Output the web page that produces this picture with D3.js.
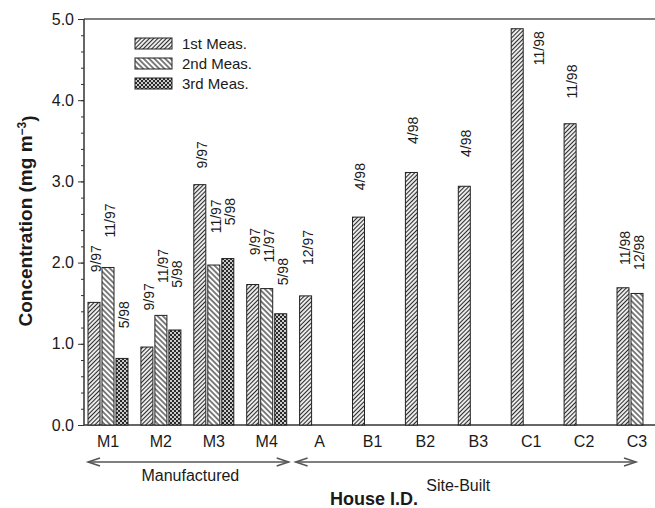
<!DOCTYPE html>
<head>
<meta charset="utf-8">
<script src="https://d3js.org/d3.v7.min.js"></script>
<style>
body {
	margin: 0;
	background: #fff;
}
svg text {
	font-family: "Liberation Sans", Arial, sans-serif;
	fill: #1a1a1a;
}
.y-axis path, .y-minor path {
	display: none;
}
.y-axis line, .y-minor line {
	stroke: #333;
}
.bar {
	stroke: #222;
	stroke-width: 1;
}
</style>
</head>
<body>
<svg id="chart" width="655" height="508"></svg>
<script>

// data
var houses = ["M1", "M2", "M3", "M4", "A", "B1", "B2", "B3", "C1", "C2", "C3"];
var meas1 = [1.51, 0.96, 2.96, 1.73, 1.59, 2.56, 3.11, 2.94, 4.88, 3.71, 1.69];
var meas2 = [1.94, 1.35, 1.97, 1.68, null, null, null, null, null, null, 1.62];
var meas3 = [0.82, 1.17, 2.05, 1.37, null, null, null, null, null, null, null];

// sampling dates written above the bars, and the level they start at
var date1 = ["9/97", "9/97", "9/97", "9/97", "12/97", "4/98", "4/98", "4/98", "11/98", "11/98", "11/98"];
var date2 = ["11/97", "11/97", "11/97", "11/97", null, null, null, null, null, null, "12/98"];
var date3 = ["5/98", "5/98", "5/98", "5/98", null, null, null, null, null, null, null];
var dateAt1 = [1.88, 1.41, 3.16, 2.09, 1.97, 2.89, 3.46, 3.30, 4.43, 4.02, 1.97];
var dateAt2 = [2.31, 1.75, 2.36, 2.00, null, null, null, null, null, null, 1.91];
var dateAt3 = [1.19, 1.69, 2.46, 1.72, null, null, null, null, null, null, null];

var seriesNames = ["1st Meas.", "2nd Meas.", "3rd Meas."];
var yTicks = [0, 1, 2, 3, 4, 5];

var svg = d3.select("#chart");

var x = d3.scalePoint().domain(houses).range([108, 637]);
var y = d3.scaleLinear().domain([0, 5]).range([425, 19]);
var barW = 12, slot = 14, axisX = 84, rightX = 655;

// hatch patterns
var defs = svg.append("defs");
function hatch(id, angle, gap) {
	var p = defs.append("pattern")
		.attr("id", id)
		.attr("patternUnits", "userSpaceOnUse")
		.attr("width", gap).attr("height", 10)
		.attr("patternTransform", "rotate(" + angle + ")");
	p.append("rect").attr("width", gap).attr("height", 10).attr("fill", "#fff");
	p.append("line")
		.attr("x1", gap / 2).attr("x2", gap / 2)
		.attr("y1", 0).attr("y2", 10)
		.attr("stroke", "#2a2a2a").attr("stroke-width", 1.2);
}
hatch("p1", 45, 3);
hatch("p2", -45, 3.8);
var chk = defs.append("pattern")
	.attr("id", "p3")
	.attr("patternUnits", "userSpaceOnUse")
	.attr("width", 4).attr("height", 4);
chk.append("rect").attr("width", 4).attr("height", 4).attr("fill", "#ccc");
chk.append("rect").attr("width", 2).attr("height", 2).attr("fill", "#2a2a2a");
chk.append("rect").attr("x", 2).attr("y", 2).attr("width", 2).attr("height", 2).attr("fill", "#2a2a2a");
var fills = ["url(#p1)", "url(#p2)", "url(#p3)"];

// frame lines
svg.append("line")
	.attr("x1", axisX).attr("x2", rightX)
	.attr("y1", y(5)).attr("y2", y(5))
	.attr("stroke", "#555").attr("stroke-width", 1.5);
svg.append("line")
	.attr("x1", axisX).attr("x2", rightX)
	.attr("y1", y(0)).attr("y2", y(0))
	.attr("stroke", "#333").attr("stroke-width", 1.5);
svg.append("line")
	.attr("x1", axisX).attr("x2", axisX)
	.attr("y1", y(5)).attr("y2", y(0))
	.attr("stroke", "#333").attr("stroke-width", 1.5);

svg.append("g")
	.attr("class", "y-minor")
	.attr("transform", "translate(" + axisX + ",0)")
	.call(d3.axisLeft(y).tickValues(d3.range(0, 26).map(i => i / 5)).tickSize(3).tickFormat(""));

svg.append("g")
	.attr("class", "y-axis")
	.attr("transform", "translate(" + axisX + ",0)")
	.call(d3.axisLeft(y).tickValues(yTicks).tickSize(6).tickPadding(4).tickFormat(d3.format(".1f")))
	.selectAll("text")
	.attr("fill", "#1a1a1a")
	.style("font-size", "16px")
	.style("font-family", "'Liberation Sans', Arial, sans-serif");

// bars
var series = [meas1, meas2, meas3];
var dates = [date1, date2, date3];
var dateAt = [dateAt1, dateAt2, dateAt3];

series.forEach(function(vals, j) {
	var rows = houses.map((h, i) => ({house: h, v: vals[i], label: dates[j][i], at: dateAt[j][i]}))
		.filter(d => d.v != null);

	svg.append("g").selectAll("rect")
		.data(rows)
		.enter().append("rect")
		.attr("class", "bar")
		.attr("x", d => x(d.house) + (j - 1) * slot - barW / 2)
		.attr("y", d => y(d.v))
		.attr("width", barW)
		.attr("height", d => y(0) - y(d.v))
		.attr("fill", fills[j]);

	svg.append("g").selectAll("text")
		.data(rows)
		.enter().append("text")
		.attr("transform", function(d) {
			var cx = x(d.house) + (j - 1) * slot + 2;
			if (d.at < d.v) cx += 20; // label sits beside a tall bar
			return "translate(" + cx + "," + y(d.at) + ") rotate(-90)";
		})
		.attr("dy", "0.35em")
		.style("font-size", "14px")
		.text(d => d.label);
});

// category labels
svg.append("g").selectAll("text")
	.data(houses)
	.enter().append("text")
	.attr("x", d => x(d))
	.attr("y", 447)
	.attr("text-anchor", "middle")
	.style("font-size", "16px")
	.text(d => d);

// group arrows
function arrow(x1, x2, yy) {
	var g = svg.append("g").attr("stroke", "#555").attr("stroke-width", 1.5).attr("fill", "none");
	g.append("line").attr("x1", x1).attr("x2", x2).attr("y1", yy).attr("y2", yy);
	g.append("path").attr("d", "M" + (x1 + 12) + "," + (yy - 4) + "L" + x1 + "," + yy + "L" + (x1 + 12) + "," + (yy + 4));
	g.append("path").attr("d", "M" + (x2 - 12) + "," + (yy - 4) + "L" + x2 + "," + yy + "L" + (x2 - 12) + "," + (yy + 4));
}
arrow(x("M1") - 20, x("M4") + 22, 462);
arrow(x("A") - 24, x("C3") - 1, 462);

svg.append("text")
	.attr("x", (x("M1") + x("M4")) / 2 + 3)
	.attr("y", 481)
	.attr("text-anchor", "middle")
	.style("font-size", "16px")
	.text("Manufactured");

svg.append("text")
	.attr("x", (x("A") + x("C3")) / 2 - 20)
	.attr("y", 491)
	.attr("text-anchor", "middle")
	.style("font-size", "16px")
	.text("Site-Built");

// axis titles
svg.append("text")
	.attr("x", 374)
	.attr("y", 505)
	.attr("text-anchor", "middle")
	.style("font-size", "18px")
	.style("font-weight", "bold")
	.text("House I.D.");

var yt = svg.append("text")
	.attr("transform", "translate(25,221) rotate(-90)")
	.attr("dy", "0.35em")
	.attr("text-anchor", "middle")
	.style("font-size", "19px")
	.style("font-weight", "bold");
yt.append("tspan").text("Concentration (mg m");
yt.append("tspan").attr("dy", "-0.5em").style("font-size", "12px").text("\u22123");
yt.append("tspan").attr("dy", "0.5em").text(")");

// legend
var legend = svg.append("g").selectAll("g")
	.data(seriesNames)
	.enter().append("g")
	.attr("transform", (d, i) => "translate(135," + (38 + i * 20) + ")");
legend.append("rect")
	.attr("class", "bar")
	.attr("width", 37).attr("height", 11)
	.attr("fill", (d, i) => fills[i]);
legend.append("text")
	.attr("x", 47)
	.attr("y", 11)
	.style("font-size", "15px")
	.text(d => d);

</script>
</body>
